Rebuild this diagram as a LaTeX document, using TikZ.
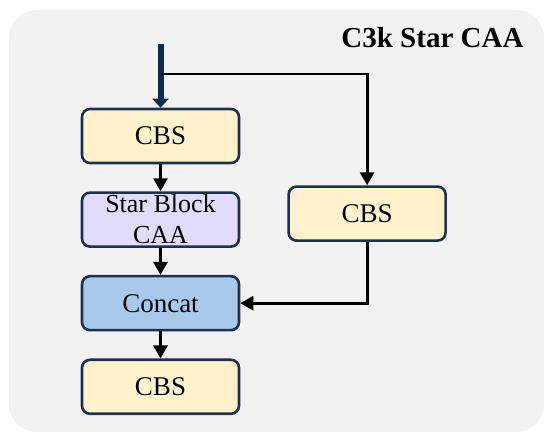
\documentclass[tikz,border=0pt]{standalone}
\usepackage{fontspec}
\setmainfont{Liberation Serif}
\usepackage{tikz}
\usetikzlibrary{arrows.meta,positioning}
\usepackage{xcolor}
\definecolor{c3kbg}{HTML}{F2F2F2}
\definecolor{c3knavy}{HTML}{1C3050}
\definecolor{c3kinput}{HTML}{0E2A4F}
\definecolor{c3kyellow}{HTML}{FFF2CC}
\definecolor{c3klilac}{HTML}{E0DCF9}
\definecolor{c3kblue}{HTML}{A9C9EA}
\tikzset{
  cbsbox/.style={
    rounded corners=8pt,
    draw=c3knavy,
    fill=c3kyellow,
    line width=2.6pt,
    minimum width=157pt,
    minimum height=54pt,
    inner ysep=0pt,
    align=center,
    font=\fontsize{27}{31}\selectfont
  },
  starbox/.style={
    cbsbox,
    fill=c3klilac,
    font=\fontsize{26}{31}\selectfont
  },
  concatbox/.style={
    cbsbox,
    fill=c3kblue
  },
  arrow/.style={
    -{Triangle[length=13pt,width=14pt]},
    line width=2.8pt,
    draw=black
  },
  inarrow/.style={
    -{Triangle[length=9pt,width=16pt]},
    line width=6pt,
    draw=c3kinput
  }
}
\begin{document}
\begin{tikzpicture}[node distance=27pt and 47pt]
\useasboundingbox (0pt,0pt) rectangle (550pt,-441pt);
\fill[c3kbg, rounded corners=28pt] (9pt,-10pt) rectangle (544pt,-432pt);
\node[anchor=base east, font=\fontsize{29}{33}\selectfont\bfseries] (title) at (527pt,-48pt) {C3k Star CAA};
\node[cbsbox] (cbs1) at (160.5pt,-136pt) {CBS};
\node[starbox, below=of cbs1] (star) {Star Block\\CAA};
\node[concatbox, below=of star] (concat) {Concat};
\node[cbsbox, below=of concat] (cbs2) {CBS};
\node[cbsbox, right=of star, yshift=6pt] (cbsr) {CBS};
\coordinate (input) at (160.5pt,-44pt);
\coordinate (split) at (160.5pt,-74pt);
\draw[inarrow] (input) -- (cbs1.north);
\draw[arrow] (split) -| (cbsr.north);
\draw[arrow] (cbs1) -- (star);
\draw[arrow] (star) -- (concat);
\draw[arrow] (concat) -- (cbs2);
\draw[arrow] (cbsr.south) |- (concat.east);
\end{tikzpicture}
\end{document}
